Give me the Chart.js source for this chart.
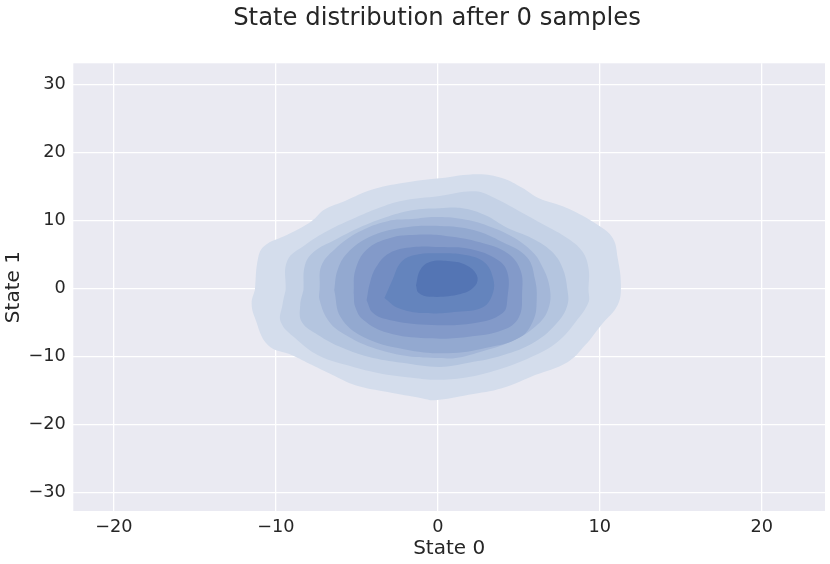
<!DOCTYPE html>
<html><head><meta charset="utf-8">
<script src="https://cdn.jsdelivr.net/npm/chart.js@4.4.1/dist/chart.umd.min.js"></script>
<style>html,body{margin:0;padding:0;background:#fff;}#wrap{width:830px;height:564px;position:relative;}</style>
</head><body><div id="wrap"><canvas id="c"></canvas></div>
<script>
const titleText = 'State distribution after 0 samples';
const xLabel = 'State 0';
const yLabel = 'State 1';
const xTicks = [-20, -10, 0, 10, 20];
const yTicks = [-30, -20, -10, 0, 10, 20, 30];
const xRange = [-22.51, 23.9];
const yRange = [-32.66, 33.08];

// KDE contour boundaries (outermost = level1), in data units
const level1 = [[-11.3,-0.2],[-11.1,4.5],[-10.7,6.3],[-9.3,7.9],[-7.8,9.9],[-7.0,11.6],[-5.7,12.9],[-4.1,14.5],[-2.2,15.5],[0.1,16.2],[2.5,16.8],[4.0,16.2],[5.2,14.8],[6.2,13.3],[8.0,11.8],[9.9,9.3],[10.8,7.4],[11.1,4.5],[11.3,0.5],[11.1,-2.4],[10.1,-5.3],[9.1,-8.3],[8.0,-10.8],[6.0,-12.7],[4.0,-14.6],[1.9,-15.6],[-0.2,-16.4],[-1.0,-16.1],[-3.1,-15.2],[-5.1,-14.2],[-6.5,-12.7],[-7.8,-11.2],[-9.0,-9.8],[-10.5,-8.3],[-11.3,-4.3],[-11.5,-2.1]];
const level2 = [[-9.4,-0.2],[-9.3,4.1],[-8.2,6.4],[-6.8,8.5],[-5.1,10.4],[-3.7,11.8],[-2.2,12.9],[0.1,13.6],[2.3,14.3],[3.5,13.3],[5.0,11.4],[6.6,9.3],[8.0,7.4],[8.9,5.5],[9.3,3.0],[9.3,-0.2],[9.3,-2.0],[8.5,-4.9],[7.4,-7.8],[6.0,-9.8],[4.0,-11.7],[1.9,-13.0],[0.1,-13.4],[-1.6,-13.1],[-3.7,-12.4],[-5.7,-11.2],[-7.4,-9.8],[-8.8,-7.3],[-9.7,-4.9],[-9.6,-2.4]];
const level3 = [[-8.3,-0.2],[-8.2,3.5],[-7.6,5.5],[-6.4,7.1],[-4.9,8.9],[-3.3,10.4],[-1.6,11.5],[0.1,11.8],[1.5,11.8],[2.9,10.8],[4.3,8.9],[5.8,7.4],[7.0,5.5],[7.7,3.0],[8.0,-0.2],[8.0,-2.4],[7.4,-4.9],[6.0,-7.8],[4.0,-9.8],[1.9,-10.9],[0.1,-11.5],[-2.2,-10.9],[-4.3,-10.0],[-5.9,-8.7],[-7.4,-6.8],[-8.4,-4.9],[-8.5,-2.4]];
const level4 = [[-7.3,0.1],[-7.2,3.3],[-6.4,5.7],[-4.9,8.3],[-3.1,9.9],[-1.6,10.2],[-0.2,10.5],[1.5,10.2],[3.1,9.2],[4.6,7.6],[5.7,5.7],[6.3,3.9],[6.9,0.2],[6.8,-3.1],[6.0,-5.6],[4.5,-7.8],[2.6,-9.3],[1.1,-10.2],[0.1,-10.2],[-1.9,-9.9],[-4.1,-8.6],[-5.7,-6.8],[-6.7,-4.9],[-7.3,-1.7]];
const level5 = [[-6.4,-0.2],[-6.2,2.7],[-5.6,5.2],[-4.2,7.6],[-2.3,8.9],[0.1,9.2],[2.2,8.6],[4.0,6.8],[5.5,4.6],[6.0,1.3],[6.1,-1.7],[5.9,-4.6],[5.1,-7.1],[3.0,-8.7],[0.6,-9.5],[-2.1,-8.9],[-4.6,-7.1],[-6.0,-4.2]];
const level6 = [[-5.2,-0.6],[-5.1,2.7],[-4.4,5.7],[-3.0,7.4],[-1.3,7.9],[0.6,7.7],[2.6,6.8],[4.3,5.2],[5.1,2.7],[5.2,-0.6],[5.0,-4.2],[4.0,-6.1],[1.8,-7.1],[-0.7,-7.3],[-3.1,-6.5],[-4.6,-4.6],[-5.1,-2.7]];
const level7 = [[-4.4,-1.7],[-4.2,0.8],[-3.8,3.2],[-3.0,5.2],[-1.5,6.1],[0.1,6.1],[2.0,5.8],[3.7,4.2],[4.3,2.3],[4.3,-1.2],[4.0,-3.6],[2.2,-5.1],[-0.7,-5.3],[-3.0,-4.6],[-4.0,-3.6]];
const level8 = [[-3.3,-1.4],[-2.8,1.3],[-2.3,3.8],[-1.5,4.9],[0.1,5.2],[1.8,4.9],[2.9,3.8],[3.4,1.6],[3.4,-0.6],[2.8,-2.7],[1.2,-3.4],[-0.9,-3.6],[-2.5,-2.8]];
const level9 = [[-1.35,0.5],[-1.1,2.7],[-0.5,3.9],[0.6,4.05],[1.7,3.5],[2.4,2.0],[2.3,0.4],[1.4,-0.8],[-0.5,-1.2],[-1.2,-0.6]];

const levelColors = ['#d4ddec','#c5d2e6','#b4c5df','#a4b7d8','#93a9d0','#839ac9','#738dc2','#6484bd','#5475b4'];

const levels = [level1, level2, level3, level4, level5, level6, level7, level8, level9];
const datasets = levels.map((pts, i) => ({
  type: 'scatter',
  showLine: true,
  data: pts.concat([pts[0]]).map(p => ({x: p[0], y: p[1]})),
  backgroundColor: levelColors[i],
  borderColor: 'rgba(0,0,0,0)',
  borderWidth: 1,
  fill: 'shape',
  tension: 0.4,
  pointRadius: 0,
  pointHoverRadius: 0,
  order: levels.length - i
}));

const FONT = '"DejaVu Sans", "Liberation Sans", sans-serif';
const TXT = '#262626';
const fmt = v => (v < 0 ? '\u2212' + Math.abs(v) : String(v));

const bgPlugin = {
  id: 'plotBg',
  beforeDraw(chart) {
    const a = chart.chartArea, ctx = chart.ctx;
    ctx.save(); ctx.fillStyle = '#eaeaf2';
    ctx.fillRect(a.left, a.top, a.right - a.left, a.bottom - a.top);
    ctx.restore();
  }
};
const titlePlugin = {
  id: 'figTitle',
  afterDraw(chart) {
    const ctx = chart.ctx;
    ctx.save();
    ctx.font = '24.3px ' + FONT; ctx.fillStyle = TXT;
    ctx.textAlign = 'center'; ctx.textBaseline = 'alphabetic';
    ctx.fillText(titleText, 437, 25);
    ctx.restore();
  }
};

new Chart(document.getElementById('c'), {
  type: 'scatter',
  data: { datasets },
  options: {
    responsive: true, maintainAspectRatio: false, animation: false, events: [],
    layout: { padding: { top: 63.3, right: 5, left: 0, bottom: 0 } },
    plugins: { legend: { display: false }, tooltip: { enabled: false }, title: { display: false } },
    scales: {
      x: {
        type: 'linear', min: xRange[0], max: xRange[1],
        afterBuildTicks: s => { s.ticks = xTicks.map(v => ({value: v})); },
        afterFit: s => { s.height = 53; },
        border: { display: false },
        grid: { color: '#ffffff', lineWidth: 1.3, drawTicks: false },
        ticks: { padding: 6, color: TXT, font: { family: FONT, size: 17.7 }, callback: fmt, maxRotation: 0, autoSkip: false },
        title: { display: true, text: xLabel, color: TXT, font: { family: FONT, size: 20 }, padding: { top: 0, bottom: 3 } }
      },
      y: {
        type: 'linear', min: yRange[0], max: yRange[1],
        afterBuildTicks: s => { s.ticks = yTicks.map(v => ({value: v})); },
        afterFit: s => { s.width = 73.3; },
        border: { display: false },
        grid: { color: '#ffffff', lineWidth: 1.3, drawTicks: false },
        ticks: { padding: 7.5, color: TXT, font: { family: FONT, size: 17.7 }, callback: fmt, autoSkip: false },
        title: { display: true, text: yLabel, color: TXT, font: { family: FONT, size: 20 }, padding: { top: 2, bottom: 0 } }
      }
    }
  },
  plugins: [bgPlugin, titlePlugin]
});
</script>
</body></html>
